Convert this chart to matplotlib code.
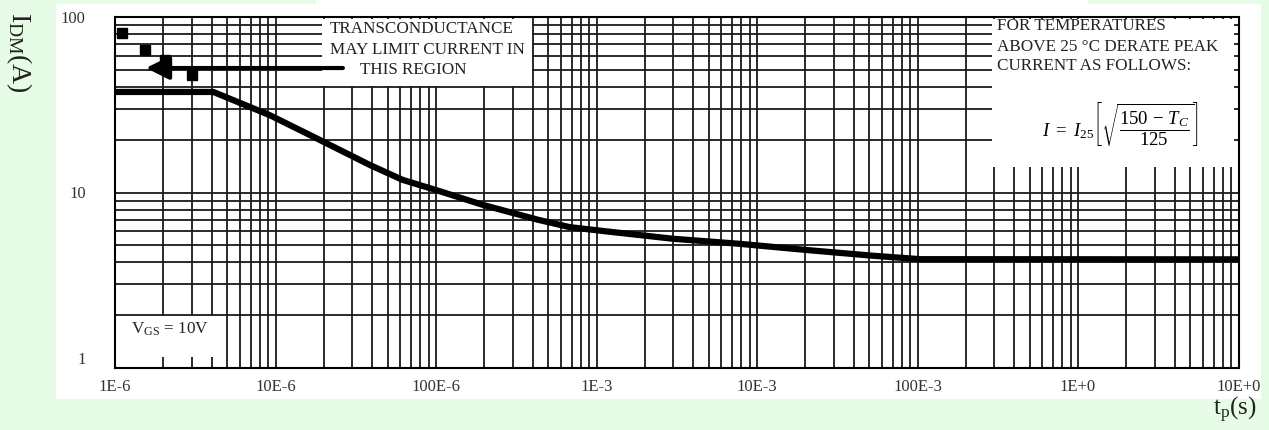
import matplotlib
matplotlib.use('Agg')
import matplotlib.pyplot as plt
from matplotlib.patches import Rectangle, FancyArrowPatch
from matplotlib.ticker import FixedLocator, FixedFormatter, NullFormatter

# maximum peak current vs pulse width
tp_s = [1e-6, 4.1e-6, 9.2e-6, 1.98e-5, 3.9e-5, 6.2e-5, 1.01e-4, 1.96e-4,
        4.3e-4, 6.8e-4, 1.16e-3, 3.0e-3, 7.8e-3, 2.05e-2, 5.3e-2, 0.104, 10.0]
idm_a = [37.4, 37.4, 27.6, 19.5, 14.3, 11.8, 10.3, 8.5,
         7.0, 6.35, 6.0, 5.45, 5.1, 4.7, 4.36, 4.17, 4.16]

# transconductance limit marks (dashed segments)
gfs_tp = [1.10e-6, 1.54e-6, 2.05e-6, 3.0e-6]
gfs_idm = [80.8, 64.9, 56.9, 46.7]

x_ticks = [1e-6, 1e-5, 1e-4, 1e-3, 1e-2, 1e-1, 1e0, 1e1]
x_labels = ['1E-6', '10E-6', '100E-6', '1E-3', '10E-3', '100E-3', '1E+0', '10E+0']
y_ticks = [1, 10, 100]
y_labels = ['1', '10', '100']

BG = '#e6fce6'
SERIF = 'Liberation Serif'

plt.rcParams['font.family'] = [SERIF, 'DejaVu Serif']
plt.rcParams['mathtext.fontset'] = 'custom'
plt.rcParams['mathtext.rm'] = SERIF
plt.rcParams['mathtext.it'] = SERIF + ':italic'


def minor_positions(lo, hi):
    pos = []
    d = lo
    while d < hi:
        for k in range(2, 10):
            pos.append(k * d)
        d *= 10
    return pos


def white_box(ax, x0, x1, y0, y1):
    ax.add_patch(Rectangle((x0, y0), x1 - x0, y1 - y0, facecolor='white',
                           edgecolor='none', zorder=1.5))


def plot_chart():
    fig = plt.figure(figsize=(12.69, 4.30), dpi=100, facecolor=BG)

    # white sheet behind the chart
    fig.patches.append(Rectangle((56 / 1269, 1 - 399 / 430), 1205 / 1269, 395 / 430,
                                 transform=fig.transFigure, facecolor='white',
                                 edgecolor='none', zorder=-2))
    fig.patches.append(Rectangle((316 / 1269, 1 - 10 / 430), 772 / 1269, 10 / 430,
                                 transform=fig.transFigure, facecolor='white',
                                 edgecolor='none', zorder=-2))

    ax = fig.add_axes([115 / 1269, 1 - 368 / 430, 1123.5 / 1269, 351 / 430])
    ax.set_xscale('log')
    ax.set_yscale('log')
    ax.set_xlim(1e-6, 10)
    ax.set_ylim(1, 100)
    ax.set_facecolor('white')

    ax.xaxis.set_major_locator(FixedLocator(x_ticks))
    ax.xaxis.set_major_formatter(FixedFormatter(x_labels))
    ax.xaxis.set_minor_locator(FixedLocator(minor_positions(1e-6, 10)))
    ax.xaxis.set_minor_formatter(NullFormatter())
    ax.yaxis.set_major_locator(FixedLocator(y_ticks))
    ax.yaxis.set_major_formatter(FixedFormatter(y_labels))
    ax.yaxis.set_minor_locator(FixedLocator(minor_positions(1, 100)))
    ax.yaxis.set_minor_formatter(NullFormatter())

    ax.tick_params(which='both', length=0)
    ax.tick_params(axis='x', pad=8, labelsize=12, labelcolor='#333333')
    ax.tick_params(axis='y', pad=21, labelsize=12, labelcolor='#333333')
    # the bottom "1" sits a little above the frame line
    ax.get_yticklabels()[0].set_va('bottom')

    ax.grid(which='both', color='#1a1a1a', linewidth=1.3)
    ax.set_axisbelow(True)
    for s in ax.spines.values():
        s.set_linewidth(1.5)
        s.set_color('black')
        s.set_zorder(5)

    # boxes that blank out the grid behind the notes
    white_box(ax, 1.95e-5, 3.96e-4, 40.5, 97.4)
    white_box(ax, 0.291, 9.38, 13.96, 97.4)
    white_box(ax, 1.0e-6, 4.95e-6, 1.16, 1.98)

    ax.plot(tp_s, idm_a, color='black', linewidth=4.5, solid_capstyle='butt', zorder=3)
    ax.plot(gfs_tp, gfs_idm, linestyle='none', marker='s', markersize=6.5,
            color='black', zorder=3)

    # arrow pointing at the transconductance limit
    ax.add_patch(FancyArrowPatch((2.63e-5, 51.2), (1.56e-6, 51.2),
                                 arrowstyle='-|>,head_length=14,head_width=7',
                                 linewidth=3, color='black', mutation_scale=1,
                                 shrinkA=0, shrinkB=0, zorder=3))

    note = dict(fontsize=12.3, color='#222222', zorder=4, va='baseline')
    fig.text(330 / 1269, 1 - 33 / 430, 'TRANSCONDUCTANCE', **note)
    fig.text(330 / 1269, 1 - 54 / 430, 'MAY LIMIT CURRENT IN', **note)
    fig.text(360 / 1269, 1 - 74 / 430, 'THIS REGION', **note)

    fig.text(997 / 1269, 1 - 30 / 430, 'FOR TEMPERATURES', **note)
    fig.text(997 / 1269, 1 - 51 / 430, 'ABOVE 25 °C DERATE PEAK', **note)
    fig.text(997 / 1269, 1 - 70 / 430, 'CURRENT AS FOLLOWS:', **note)
    fig.text(1120 / 1269, 1 - 124 / 430,
             r'$I\ =\ I_{25}\left[\sqrt{\dfrac{150\,-\,T_C}{125}}\right]$',
             ha='center', va='center', fontsize=13.5, color='black', zorder=4)

    fig.text(131 / 1269, 1 - 334 / 430, r'V$_{\rm GS}$ = 10V', **note)

    fig.text(19 / 1269, 1 - 52 / 430, r'I$_{\rm DM}$(A)', rotation=-90,
             ha='center', va='center', fontsize=20, color='#222222')
    fig.text(1257 / 1269, 1 - 410 / 430, r't$_{\rm p}$(s)',
             ha='right', va='center', fontsize=18, color='#222222')

    fig.savefig('out.png', dpi=100, facecolor=BG)


def main():
    plot_chart()


if __name__ == "__main__":
    main()
